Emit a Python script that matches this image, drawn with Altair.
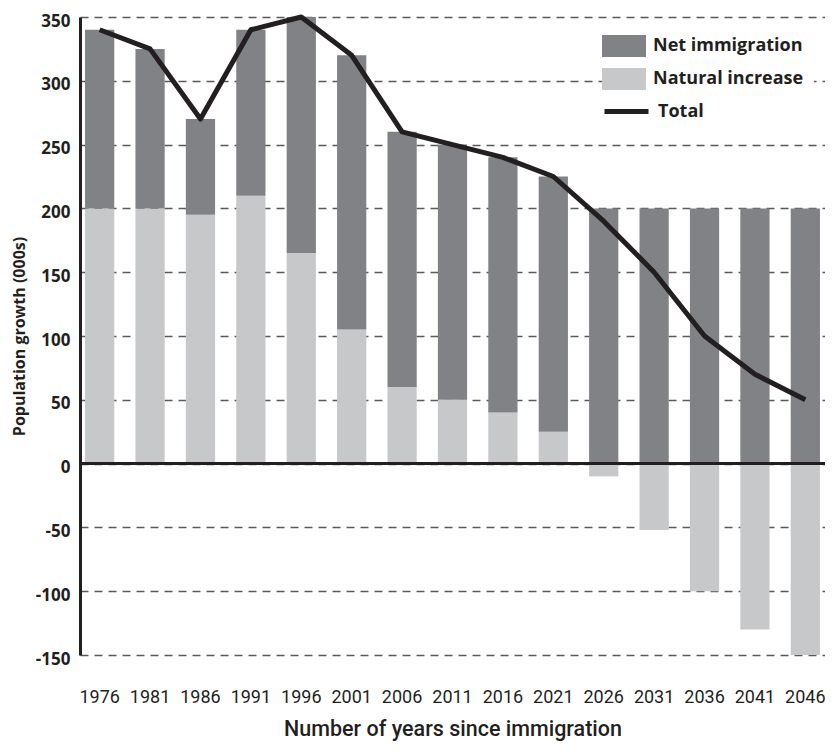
import altair as alt
import pandas as pd

years = ["1976", "1981", "1986", "1991", "1996", "2001", "2006", "2011",
         "2016", "2021", "2026", "2031", "2036", "2041", "2046"]
natural_increase = [200, 200, 195, 210, 165, 105, 60, 50, 40, 25, -10, -52, -100, -130, -150]
net_immigration = [140, 125, 75, 130, 185, 215, 200, 200, 200, 200, 200, 200, 200, 200, 200]
total = [340, 325, 270, 340, 350, 320, 260, 250, 240, 225, 190, 150, 100, 70, 50]
y_ticks = [-150, -100, -50, 0, 50, 100, 150, 200, 250, 300, 350]

bar_names = ["Net immigration", "Natural increase"]
bar_colors = ["#808285", "#c7c8ca"]
line_name = "Total"
line_color = "#231f20"

rows = []
for i, yr in enumerate(years):
    rows.append({"year": yr, "series": "Natural increase", "value": natural_increase[i], "ord": 0})
    rows.append({"year": yr, "series": "Net immigration", "value": net_immigration[i], "ord": 1})
bars_df = pd.DataFrame(rows)
line_df = pd.DataFrame({"year": years, "total": total, "name": [line_name] * len(years)})
zero_df = pd.DataFrame({"y": [0]})

x_enc = alt.X("year:N", sort=years, title="Number of years since immigration",
              scale=alt.Scale(paddingInner=0.42, paddingOuter=0.1),
              axis=alt.Axis(labelAngle=0, ticks=False, domain=False, grid=False,
                            labelFont="Roboto", labelFontSize=18,
                            labelColor="#231f20", labelPadding=33,
                            titleFont="Roboto", titleFontSize=21.5,
                            titleFontWeight=500, titleColor="#231f20",
                            titlePadding=12))

y_scale = alt.Scale(domain=[-150, 350], nice=False, zero=False)
y_axis = alt.Axis(values=y_ticks, labelExpr="toString(datum.value)",
                  ticks=False, domain=True, domainColor="#231f20", domainWidth=3,
                  grid=True, gridColor="#58595b", gridDash=[8, 6], gridWidth=1.3,
                  labelFont="Open Sans", labelFontSize=17, labelFontWeight="bold",
                  labelColor="#231f20", labelPadding=10, labelOffset=4,
                  title="Population growth (000s)", titleFont="Open Sans",
                  titleFontSize=16, titleFontWeight="bold", titleColor="#231f20",
                  titlePadding=8)

legend_common = dict(
    title=None, orient="none", padding=10, fillColor="white",
    labelFont="Open Sans", labelFontSize=18, labelFontWeight="bold",
    labelColor="#231f20", labelOffset=18, rowPadding=11, symbolSize=484,
)

bars = alt.Chart(bars_df).mark_bar().encode(
    x=x_enc,
    y=alt.Y("value:Q", scale=y_scale, axis=y_axis, stack="zero"),
    color=alt.Color("series:N", scale=alt.Scale(domain=bar_names, range=bar_colors),
                    legend=alt.Legend(legendX=523, legendY=8,
                                      symbolType="M-2,-1H2V1H-2Z",
                                      symbolStrokeWidth=0, **legend_common)),
    order=alt.Order("ord:Q", sort="ascending"),
)

zero_rule = alt.Chart(zero_df).mark_rule(color="#231f20", strokeWidth=3).encode(
    y=alt.Y("y:Q", scale=y_scale)
)

line = alt.Chart(line_df).mark_line(strokeWidth=5, strokeJoin="round").encode(
    x=alt.X("year:N", sort=years),
    y=alt.Y("total:Q", scale=y_scale),
    stroke=alt.Stroke("name:N", scale=alt.Scale(domain=[line_name], range=[line_color]),
                      legend=alt.Legend(legendX=523, legendY=71, symbolType="M-2,0H2",
                                        symbolStrokeWidth=5, **legend_common)),
)

chart = alt.layer(bars, zero_rule, line).resolve_scale(color="independent").properties(
    width=745, height=638,
    autosize=alt.AutoSizeParams(type="none"),
    padding={"left": 72, "top": 9, "right": 0, "bottom": 88},
    background="white",
).configure_view(stroke=None)

chart.save("out.html", embed_options={"renderer": "svg", "actions": False})
